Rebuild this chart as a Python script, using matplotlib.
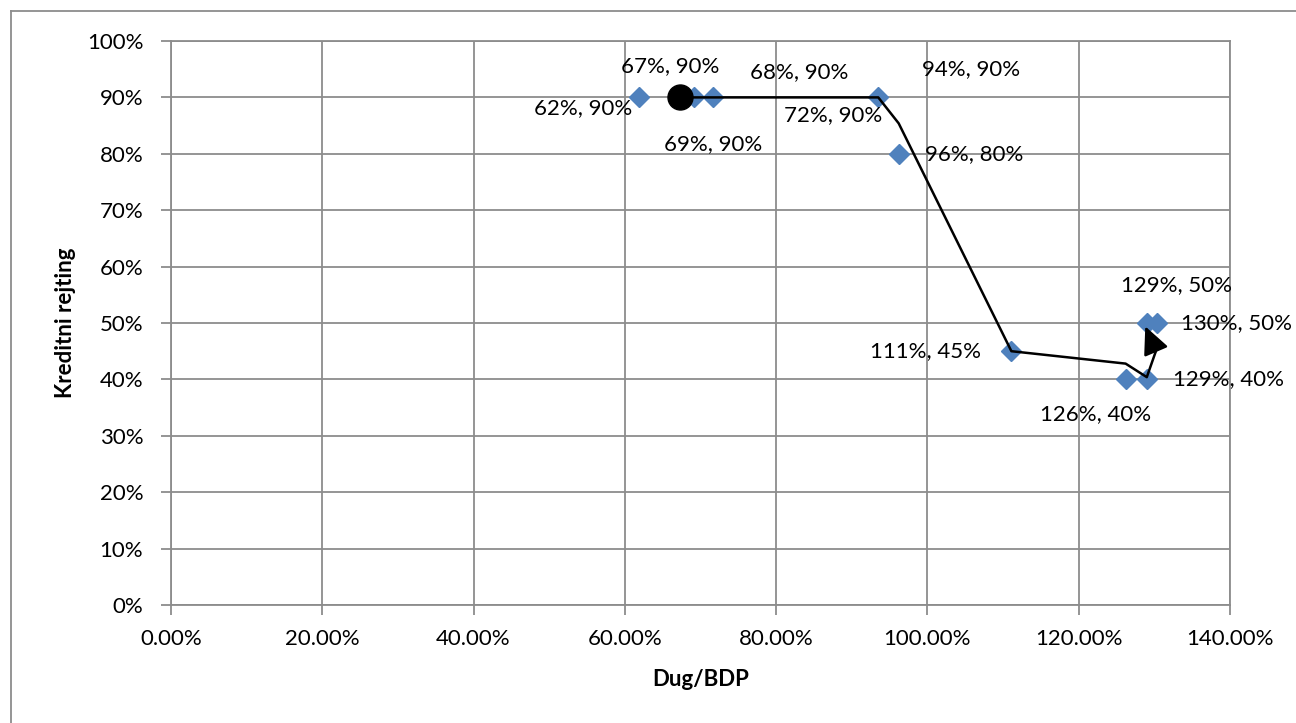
import matplotlib.pyplot as plt
from matplotlib.lines import Line2D
from matplotlib.ticker import FuncFormatter

# podaci (u %)
dug = [61.9, 67.3, 68.0, 69.2, 71.6, 93.5, 96.2, 111.1, 126.2, 129.0, 129.0, 130.3]
rejting = [90, 90, 90, 90, 90, 90, 80, 45, 40, 40, 50, 50]
oznake = ["62%, 90%", "67%, 90%", "68%, 90%", "69%, 90%", "72%, 90%", "94%, 90%",
          "96%, 80%", "111%, 45%", "126%, 40%", "129%, 40%", "129%, 50%", "130%, 50%"]
# pomak oznaka u pikselima (dx, dy)
pomaci = [(-56, -11), (-10, 31), (114, 25), (19, -47), (121, -18), (93, 28),
          (76, 0), (-86, 0), (-30, -35), (82, 0), (30, 38), (80, 0)]

# putanja (linija sa strelicom)
put_x = [67.3, 93.5, 96.2, 111.1, 126.2, 129.0, 130.2, 128.8]
put_y = [90, 90, 85.4, 45, 42.8, 40.4, 45, 49.4]

plt.rcParams['font.family'] = ['Lato', 'DejaVu Sans']
siva = '#8c8c8c'
fs = 16

fig = plt.figure(figsize=(12.96, 7.23), dpi=100)
ax = fig.add_axes([171 / 1296, 1 - 605 / 723, (1230 - 171) / 1296, (605 - 41) / 723])

ax.plot(dug, rejting, linestyle='none', marker='D', markersize=10.5,
        color='#4f81bd', zorder=3)
ax.plot(put_x[:-1], put_y[:-1], color='black', lw=1.8, zorder=4)
ax.annotate('', xy=(put_x[-1], put_y[-1]), xytext=(put_x[-2], put_y[-2]),
            arrowprops=dict(arrowstyle='-|>,head_length=0.85,head_width=0.4', color='black',
                            lw=1.8, mutation_scale=20, shrinkA=0, shrinkB=0), zorder=4)
ax.plot([dug[1]], [rejting[1]], marker='o', markersize=18, color='black', zorder=5)

for x, y, t, (dx, dy) in zip(dug, rejting, oznake, pomaci):
    ax.annotate(t, (x, y), xytext=(dx * 0.72, dy * 0.72), textcoords='offset points',
                ha='center', va='center', fontsize=fs, zorder=6, annotation_clip=False)

ax.set_xlim(0, 140)
ax.set_ylim(0, 100)
ax.set_xticks(range(0, 141, 20))
ax.set_yticks(range(0, 101, 10))
ax.xaxis.set_major_formatter(FuncFormatter(lambda v, p: f"{v:.2f}%"))
ax.yaxis.set_major_formatter(FuncFormatter(lambda v, p: f"{v:.0f}%"))
ax.grid(True, color=siva, lw=1.3)
ax.set_axisbelow(True)
for s in ax.spines.values():
    s.set_color(siva)
    s.set_linewidth(1.3)
ax.tick_params(colors='black', labelsize=fs, length=7, width=1.3)
ax.tick_params(axis='x', color=siva, pad=10)
ax.tick_params(axis='y', color=siva, pad=13)

ax.set_xlabel("Dug/BDP", fontsize=fs, fontweight='bold', labelpad=15)
ax.set_ylabel("Kreditni rejting", fontsize=fs, fontweight='bold', labelpad=8)

# okvir grafikona
fig.add_artist(Line2D([11 / 1296, 1.0], [1 - 11 / 723, 1 - 11 / 723],
                      transform=fig.transFigure, color=siva, lw=1.3))
fig.add_artist(Line2D([11 / 1296, 11 / 1296], [0, 1 - 11 / 723],
                      transform=fig.transFigure, color=siva, lw=1.3))

fig.savefig("out.png", dpi=100)
plt.close(fig)
